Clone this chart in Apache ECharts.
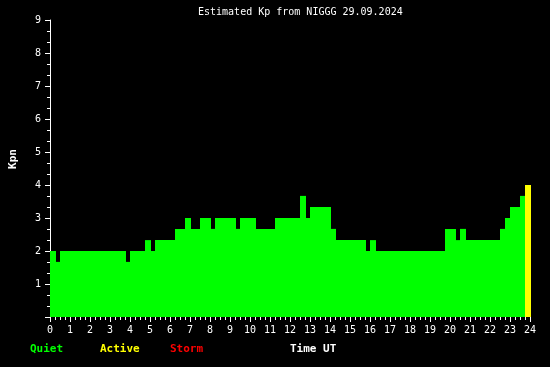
<!DOCTYPE html>
<html>
<head>
<meta charset="utf-8">
<script src="https://cdn.jsdelivr.net/npm/echarts@6/dist/echarts.min.js"></script>
<style>html,body{margin:0;padding:0;background:#000;}#c{width:550px;height:367px;}</style>
</head>
<body>
<div id="c"></div>
<script>
// Segment start times (hours UT) and estimated Kp values
const segStart = [0, 0.3, 0.5, 3.8, 4.0, 4.75, 5.05, 5.25, 6.25, 6.75, 7.05, 7.5, 8.05, 8.25, 9.3, 9.5,
  10.3, 11.25, 12.5, 12.8, 13.0, 14.05, 14.3, 15.8, 16.0, 16.3, 19.75, 20.3, 20.5, 20.8, 22.5, 22.75, 23.0, 23.5, 23.75];
const kpValue = [2, 1.67, 2, 1.67, 2, 2.33, 2, 2.33, 2.67, 3, 2.67, 3, 2.67, 3, 2.67, 3,
  2.67, 3, 3.67, 3, 3.33, 2.67, 2.33, 2, 2.33, 2, 2.67, 2.33, 2.67, 2.33, 2.67, 3, 3.33, 3.67, 4];
const lastEnd = 24.05;
const xTicks = ['0','1','2','3','4','5','6','7','8','9','10','11','12','13','14','15','16','17','18','19','20','21','22','23','24'];
const yTicks = ['','1','2','3','4','5','6','7','8','9'];
const titleText = 'Estimated Kp from NIGGG 29.09.2024';
const legendItems = [['Quiet', '#00ff00'], ['Active', '#ffff00'], ['Storm', '#ff0000']];

const data = segStart.map((s, i) => [s, i + 1 < segStart.length ? segStart[i + 1] : lastEnd, kpValue[i]]);

function colorFor(v) {
  if (v >= 5) return '#ff0000';
  if (v >= 4) return '#ffff00';
  return '#00ff00';
}

const mono = "'DejaVu Sans Mono', 'Liberation Mono', monospace";
const chart = echarts.init(document.getElementById('c'), null, {renderer: 'canvas'});
const legendX = [30, 100, 170];
chart.setOption({
  backgroundColor: '#000000',
  animation: false,
  grid: {left: 50, right: 20, top: 20, bottom: 50},
  xAxis: {
    type: 'value', min: 0, max: 24, interval: 1,
    axisLine: {show: false},
    axisTick: {show: true, length: 5, lineStyle: {color: '#ffffff', width: 1}},
    minorTick: {show: true, splitNumber: 4, length: 3, lineStyle: {color: '#ffffff', width: 1}},
    splitLine: {show: false},
    axisLabel: {color: '#ffffff', fontFamily: mono, fontSize: 10, margin: 8,
      formatter: v => xTicks[Math.round(v)]}
  },
  yAxis: {
    type: 'value', min: 0, max: 9, interval: 1,
    axisLine: {show: true, lineStyle: {color: '#ffffff', width: 1}},
    axisTick: {show: true, length: 5, lineStyle: {color: '#ffffff', width: 1}},
    minorTick: {show: true, splitNumber: 3, length: 3, lineStyle: {color: '#ffffff', width: 1}},
    splitLine: {show: false},
    axisLabel: {color: '#ffffff', fontFamily: mono, fontSize: 10, margin: 9,
      formatter: v => yTicks[Math.round(v)]}
  },
  series: [{
    type: 'custom',
    clip: false,
    data: data,
    encode: {x: [0, 1], y: 2},
    renderItem: function (params, api) {
      const p0 = api.coord([api.value(0), api.value(2)]);
      const p1 = api.coord([api.value(1), 0]);
      return {
        type: 'rect',
        shape: {x: p0[0], y: p0[1], width: p1[0] - p0[0], height: p1[1] - p0[1]},
        style: {fill: colorFor(api.value(2)), stroke: null}
      };
    }
  }],
  graphic: [
    {type: 'text', left: 198, top: 7, style: {text: titleText, fill: '#ffffff', font: '10px ' + mono}},
    {type: 'text', x: 13, y: 159, rotation: Math.PI / 2,
      style: {text: 'Kpn', fill: '#ffffff', font: 'bold 11px ' + mono, textAlign: 'center', textVerticalAlign: 'middle'}},
    ...legendItems.map((it, i) => ({type: 'text', left: legendX[i], top: 344,
      style: {text: it[0], fill: it[1], font: 'bold 11px ' + mono}})),
    {type: 'text', left: 290, top: 344, style: {text: 'Time UT', fill: '#ffffff', font: 'bold 11px ' + mono}}
  ]
});
</script>
</body>
</html>
